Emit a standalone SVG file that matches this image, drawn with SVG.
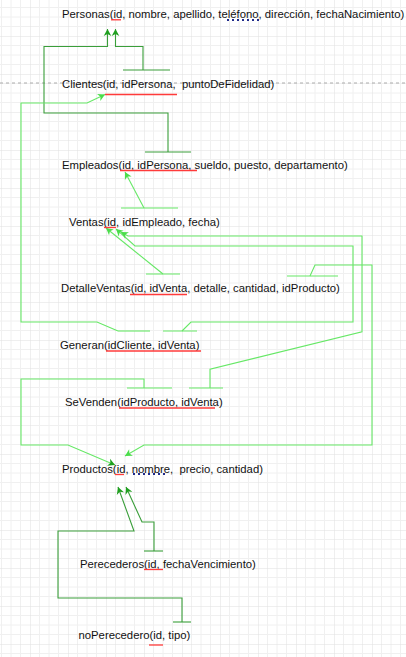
<svg xmlns="http://www.w3.org/2000/svg" width="406" height="657" viewBox="0 0 406 657">
<defs>
<pattern id="grid" x="30" y="36" width="38" height="38" patternUnits="userSpaceOnUse">
<path d="M9.5,0V38M19,0V38M28.5,0V38M0,9.5H38M0,19H38M0,28.5H38" stroke="#f0f0f0" stroke-width="1" fill="none"/>
<path d="M0,0V38M0,0H38" stroke="#e0e0e0" stroke-width="1" fill="none"/>
</pattern>
<marker id="ad" viewBox="-8 -4.5 9 9" refX="0" refY="0" markerWidth="9" markerHeight="9" markerUnits="userSpaceOnUse" orient="auto">
<path d="M0,0L-7,-3.8L-5,0L-7,3.8Z" fill="#1f9f1f"/>
</marker>
<marker id="al" viewBox="-8 -4.5 9 9" refX="0" refY="0" markerWidth="9" markerHeight="9" markerUnits="userSpaceOnUse" orient="auto">
<path d="M0,0L-7,-3.8L-5,0L-7,3.8Z" fill="#4bdd4b"/>
</marker>
<style>
.t{font-family:"Liberation Sans",Arial,sans-serif;font-size:11.3px;fill:#111;white-space:pre}
.u{stroke:#ff3b3b;stroke-width:1.3;fill:none}
.sq{stroke:#1f2a8a;stroke-width:2;stroke-dasharray:2 3;fill:none}
.d{stroke:#3a9e3a;stroke-width:1.1;fill:none}
.l{stroke:#66e866;stroke-width:1.1;fill:none}
</style>
</defs>
<rect width="406" height="657" fill="#fff"/>
<rect width="406" height="657" fill="url(#grid)"/>
<line x1="0" y1="83" x2="406" y2="83" stroke="#aaa" stroke-width="1" stroke-dasharray="3 3"/>
<g id="connectors">
<!-- Clientes -> Personas -->
<path class="d" d="M123,70H170"/>
<path class="d" d="M143,70V46.5H115.5V29" marker-end="url(#ad)"/>
<!-- Empleados -> Personas -->
<path class="d" d="M145,152H191"/>
<path class="d" d="M168,152V113H44V46.5H107.5V29" marker-end="url(#ad)"/>
<!-- Generan idCliente -> Clientes -->
<path class="l" d="M118,331H150"/>
<path class="l" d="M118,331L97,322H21V103H87L105,94.5" marker-end="url(#al)"/>
<!-- Generan idVenta -> Ventas -->
<path class="l" d="M163,331H197"/>
<path class="l" d="M182,331L191,322H353V246H135L116,229" marker-end="url(#al)"/>
<!-- DetalleVentas -> Ventas -->
<path class="l" d="M146,274H180"/>
<path class="l" d="M163,274L106,228" marker-end="url(#al)"/>
<!-- Ventas -> Empleados -->
<path class="l" d="M121,208H178"/>
<path class="l" d="M144,208L125,172" marker-end="url(#al)"/>
<!-- SeVenden idVenta -> Ventas -->
<path class="l" d="M189,388H223"/>
<path class="l" d="M210,388V369.3L362,331.7V236H128L121,232" marker-end="url(#al)"/>
<!-- DetalleVentas idProducto -> Productos -->
<path class="l" d="M287,276H338"/>
<path class="l" d="M310,276L315,265H372V445H144L125,456" marker-end="url(#al)"/>
<!-- SeVenden idProducto -> Productos -->
<path class="l" d="M127,388H172"/>
<path class="l" d="M144,388V379H21V445H68L115,465" marker-end="url(#ad)"/>
<!-- Perecederos -> Productos -->
<path class="d" d="M144,551H163"/>
<path class="d" d="M154,551V522H142L126,487" marker-end="url(#ad)"/>
<!-- noPerecedero -> Productos -->
<path class="d" d="M173,622H191"/>
<path class="d" d="M182,622V598H58V531H134L118,487" marker-end="url(#ad)"/>
</g>
<g id="personas">
<text class="t" x="62" y="18">Personas(id, nombre, apellido, teléfono, dirección, fechaNacimiento)</text>
<path class="u" d="M111,19.8H121"/>
<path class="sq" d="M227,20H261"/>
</g>
<g id="clientes">
<text class="t" x="62" y="88">Clientes(id, idPersona,  puntoDeFidelidad)</text>
<path class="u" d="M105,94.5H177"/>
</g>
<g id="empleados">
<text class="t" x="62" y="169">Empleados(id, idPersona, sueldo, puesto, departamento)</text>
<path class="u" d="M120,170.5H197"/>
</g>
<g id="ventas">
<text class="t" x="69" y="226">Ventas(id, idEmpleado, fecha)</text>
<path class="u" d="M104,227.5H116"/>
</g>
<g id="detalleventas">
<text class="t" x="61" y="292">DetalleVentas(id, idVenta, detalle, cantidad, idProducto)</text>
<path class="u" d="M130,294.5H187"/>
</g>
<g id="generan">
<text class="t" x="60" y="349">Generan(idCliente, idVenta)</text>
<path class="u" d="M106,351H201"/>
</g>
<g id="sevenden">
<text class="t" x="65" y="406">SeVenden(idProducto, idVenta)</text>
<path class="u" d="M119,408H215"/>
</g>
<g id="productos">
<text class="t" x="62" y="473">Productos(id, nombre,  precio, cantidad)</text>
<path class="u" d="M115,474.5H124"/>
<path class="sq" d="M133,474H168"/>
</g>
<g id="perecederos">
<text class="t" x="80" y="568">Perecederos(id, fechaVencimiento)</text>
<path class="u" d="M144,569.5H163"/>
</g>
<g id="noperecedero">
<text class="t" x="78.5" y="639">noPerecedero(id, tipo)</text>
<path class="u" d="M149,645H163"/>
</g>
</svg>
